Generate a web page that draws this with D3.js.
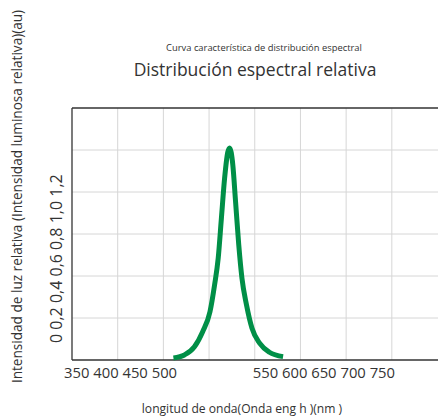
<!DOCTYPE html>
<html>
<head>
<meta charset="utf-8">
<script src="https://cdn.jsdelivr.net/npm/d3@7"></script>
<style>
  body { margin: 0; background: white; }
  text { font-family: "Open Sans", sans-serif; fill: #333; }
</style>
</head>
<body>
<div id="viz-container"></div>
<script>
let svgWidth = 438;
let svgHeight = 416;

// data
let wavelength = [461, 473, 484, 493, 501, 506, 510, 513.5, 517, 520.5, 522.5, 526, 529, 532.5, 536, 541, 547, 555.5, 566, 581];
let intensity  = [0.01, 0.024, 0.063, 0.135, 0.23, 0.357, 0.484, 0.675, 0.865, 0.99, 1.01, 0.929, 0.754, 0.548, 0.389, 0.262, 0.151, 0.079, 0.037, 0.016];

let xTicks = [350, 400, 450, 500, 550, 600, 650, 700, 750];
let yTicks = [0, 0.2, 0.4, 0.6, 0.8, 1.0, 1.2];
let xLabelsLeft = ["350", "400", "450", "500"];
let xLabelsRight = ["550", "600", "650", "700", "750"];
let yLabels = ["0", "0,2", "0,4", "0,6", "0,8", "1,0", "1,2"];

let subTitle = "Curva característica de distribución espectral";
let mainTitle = "Distribución espectral relativa";
let xTitle = "longitud de onda(Onda eng h )(nm )";
let yTitle = "Intensidad de luz relativa (Intensidad luminosa relativa)(au)";

let plotLeft = 72, plotRight = 437.5, plotTop = 108, plotBottom = 360;

let viz = d3.select("#viz-container")
  .append("svg")
    .attr("width", svgWidth)
    .attr("height", svgHeight);

let x = d3.scaleLinear().domain([350, 750]).range([plotLeft, plotRight]);
let y = d3.scaleLinear().domain([0, 1.2]).range([plotBottom, plotTop]);

// grid
viz.selectAll(".vgrid").data(xTicks.filter(d => d > 350 && d < 750)).enter()
  .append("line")
    .attr("class", "vgrid")
    .attr("x1", d => x(d)).attr("x2", d => x(d))
    .attr("y1", plotTop).attr("y2", plotBottom)
    .attr("stroke", "#d6d6d6")
    .attr("stroke-width", 1);

viz.selectAll(".hgrid").data(yTicks.filter(d => d > 0 && d < 1.2)).enter()
  .append("line")
    .attr("class", "hgrid")
    .attr("x1", plotLeft).attr("x2", svgWidth)
    .attr("y1", d => y(d)).attr("y2", d => y(d))
    .attr("stroke", "#d6d6d6")
    .attr("stroke-width", 1);

// frame: top, left, bottom
viz.append("line").attr("x1", plotLeft).attr("x2", svgWidth).attr("y1", plotTop).attr("y2", plotTop)
  .attr("stroke", "#333").attr("stroke-width", 1.3);
viz.append("line").attr("x1", plotLeft).attr("x2", plotLeft).attr("y1", plotTop).attr("y2", plotBottom)
  .attr("stroke", "#333").attr("stroke-width", 1.3);
viz.append("line").attr("x1", plotLeft).attr("x2", svgWidth).attr("y1", plotBottom).attr("y2", plotBottom)
  .attr("stroke", "#333").attr("stroke-width", 1.3);

// curve
let pts = wavelength.map((w, i) => [w, intensity[i]]);
let line = d3.line()
  .x(d => x(d[0]))
  .y(d => y(d[1]))
  .curve(d3.curveMonotoneX);

viz.append("path")
  .datum(pts)
  .attr("d", line)
  .attr("fill", "none")
  .attr("stroke", "#008f47")
  .attr("stroke-width", 5)
  .attr("stroke-linejoin", "miter")
  .attr("stroke-linecap", "butt");

// tick labels (drawn as running strings, like the original)
viz.append("text")
  .text(xLabelsLeft.join(" "))
  .attr("x", x(350) - 8)
  .attr("y", 378)
  .attr("font-size", 14.8);

viz.append("text")
  .text(xLabelsRight.join(" "))
  .attr("x", x(550) - 2)
  .attr("y", 378)
  .attr("font-size", 14.8);

viz.append("text")
  .text(yLabels.join(" "))
  .attr("transform", "translate(61.5," + (y(0) - 17) + ") rotate(-90)")
  .attr("font-size", 16);

// titles
viz.append("text")
  .text(subTitle)
  .attr("x", 264)
  .attr("y", 51)
  .attr("text-anchor", "middle")
  .attr("font-size", 9.4);

viz.append("text")
  .text(mainTitle)
  .attr("x", 255)
  .attr("y", 76)
  .attr("text-anchor", "middle")
  .attr("font-size", 17.5);

viz.append("text")
  .text(xTitle)
  .attr("x", 242)
  .attr("y", 413)
  .attr("text-anchor", "middle")
  .attr("font-size", 12.1);

viz.append("text")
  .text(yTitle)
  .attr("transform", "translate(21.5,196.5) rotate(-90)")
  .attr("text-anchor", "middle")
  .attr("font-size", 13.6);
</script>
</body>
</html>
